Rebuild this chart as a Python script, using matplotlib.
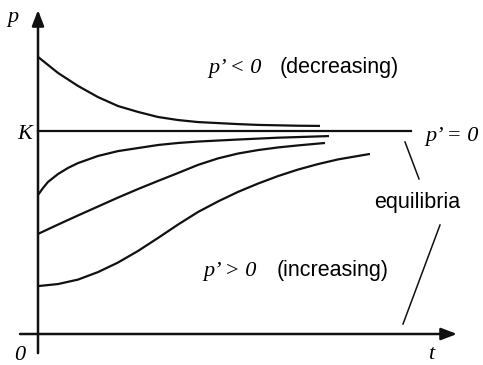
import matplotlib
matplotlib.use("Agg")
import matplotlib.pyplot as plt

# solution curves p(t) (K = 1)
t_dec = [0, 0.5, 1, 1.5, 2, 2.5, 3, 3.5, 4, 4.5, 5, 5.5, 6, 6.5, 7.05]
p_dec = [1.365, 1.286, 1.222, 1.167, 1.123, 1.094, 1.069, 1.054, 1.044,
         1.039, 1.034, 1.030, 1.028, 1.026, 1.025]

t_inc1 = [0, 0.125, 0.25, 0.5, 0.75, 1, 1.5, 2, 2.5, 3, 3.5, 4, 5, 6, 7.275]
p_inc1 = [0.685, 0.719, 0.749, 0.788, 0.818, 0.842, 0.877, 0.901, 0.916,
          0.931, 0.941, 0.948, 0.958, 0.967, 0.975]

t_inc2 = [0, 0.5, 1, 1.5, 2, 2.5, 3, 3.5, 4, 4.5, 5, 5.5, 6, 6.5, 7.175]
p_inc2 = [0.493, 0.539, 0.584, 0.628, 0.672, 0.714, 0.754, 0.793, 0.833,
          0.865, 0.889, 0.906, 0.919, 0.929, 0.941]

t_inc3 = [0, 0.5, 1, 1.5, 2, 2.5, 3, 3.5, 4, 4.5, 5, 5.5, 6, 6.5, 7, 7.5, 8, 8.3]
p_inc3 = [0.236, 0.246, 0.268, 0.305, 0.352, 0.409, 0.473, 0.539, 0.601,
          0.653, 0.700, 0.741, 0.778, 0.810, 0.837, 0.860, 0.877, 0.887]

K = 1.0
t_K_end = 9.325

ink = "#111111"
serif = {"family": "Liberation Serif", "style": "italic", "size": 16}
sans = {"family": "Liberation Sans", "size": 15.5}

fig = plt.figure(figsize=(4.83, 3.65), dpi=100)
ax = fig.add_axes([0, 0, 1, 1])
ax.set_xlim(-0.95, 11.125)
ax.set_ylim(-0.1527, 1.6453)
ax.axis("off")

# axes with arrow heads
head = "-|>,head_length=0.94,head_width=0.36"
ax.annotate("", xy=(10.475, 0), xytext=(-0.45, 0),
            arrowprops=dict(arrowstyle=head, mutation_scale=10, lw=1.8,
                            color=ink, shrinkA=0, shrinkB=0))
ax.annotate("", xy=(0, 1.596), xytext=(0, -0.094),
            arrowprops=dict(arrowstyle=head, mutation_scale=10, lw=1.8,
                            color=ink, shrinkA=0, shrinkB=0))

# equilibrium p = K
ax.plot([0, t_K_end], [K, K], color=ink, lw=1.6)

for t, p in [(t_dec, p_dec), (t_inc1, p_inc1), (t_inc2, p_inc2), (t_inc3, p_inc3)]:
    ax.plot(t, p, color=ink, lw=1.6, solid_capstyle="butt", solid_joinstyle="round")

# pointer lines to the equilibria
ax.plot([9.175, 9.525], [0.946, 0.764], color=ink, lw=1.1)
ax.plot([10.05, 9.125], [0.537, 0.049], color=ink, lw=1.1)

# labels
ax.text(-0.625, 1.535, "p", ha="center", va="baseline", fontdict=serif)
ax.text(-0.15, 0.961, "K", ha="right", va="baseline", fontdict=serif)
ax.text(-0.45, -0.108, "0", ha="center", va="center", fontdict=serif)
ax.text(9.825, -0.150, "t", ha="center", va="bottom", fontdict=serif)

ax.text(9.675, 0.951, "p’ = 0", ha="left", va="baseline", fontdict=serif)
ax.text(4.25, 1.286, "p’ < 0", ha="left", va="baseline", fontdict=serif)
ax.text(6.05, 1.286, "(decreasing)", ha="left", va="baseline", fontdict=sans)
ax.text(4.125, 0.286, "p’ > 0", ha="left", va="baseline", fontdict=serif)
ax.text(5.975, 0.286, "(increasing)", ha="left", va="baseline", fontdict=sans)
ax.text(9.49, 0.621, "equilibria", ha="center", va="baseline", fontdict=sans)

fig.savefig("out.png", dpi=100)
